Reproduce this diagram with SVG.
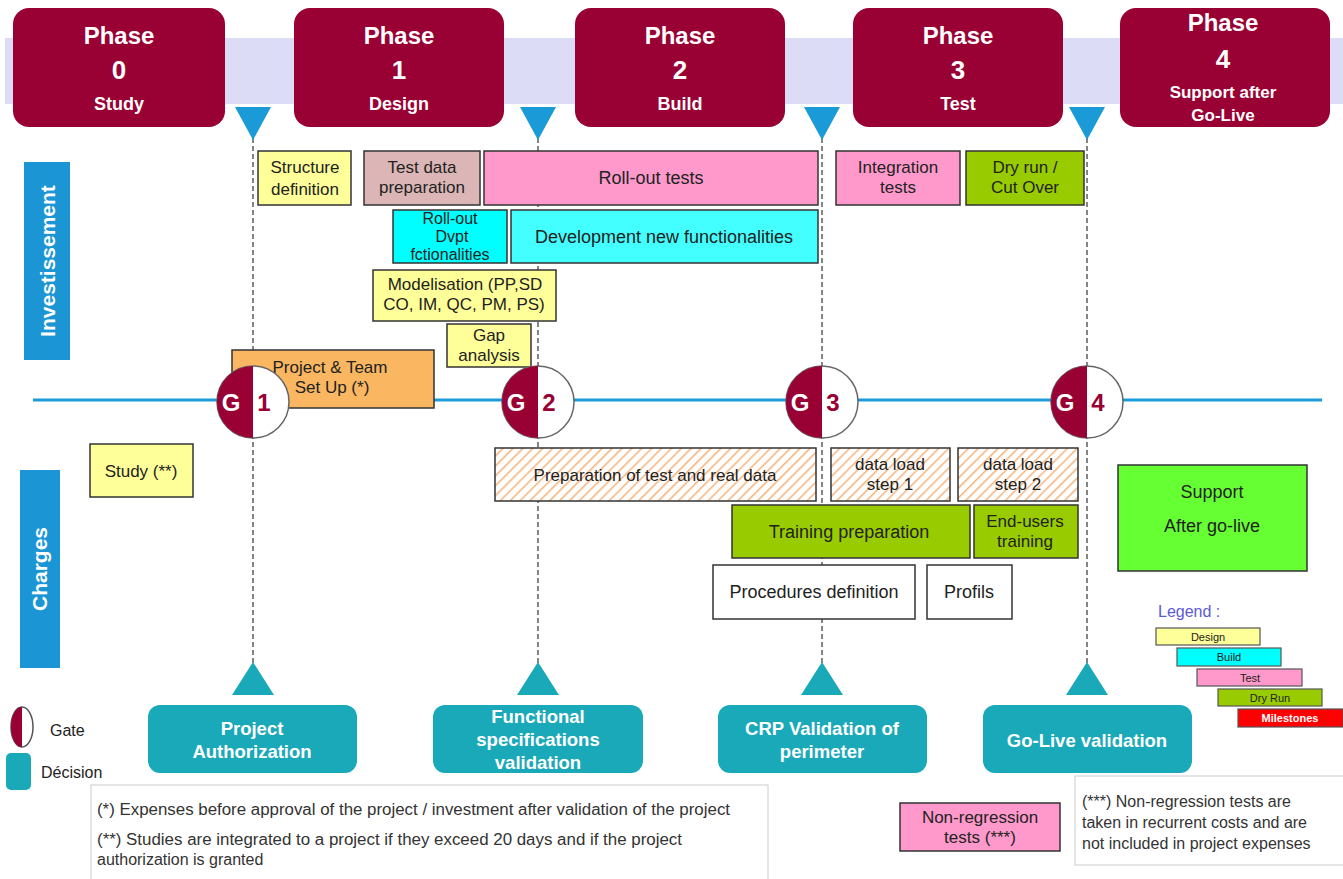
<svg xmlns="http://www.w3.org/2000/svg" width="1343" height="879" viewBox="0 0 1343 879">
<defs>
<pattern id="hatch" patternUnits="userSpaceOnUse" width="7" height="7" patternTransform="rotate(45)">
<rect width="7" height="7" fill="#ffffff"/>
<line x1="0" y1="0" x2="0" y2="7" stroke="#f6b27a" stroke-width="3"/>
</pattern>
<style>
.ph{fill:#990033}
.pt{fill:#fff;font-family:"Liberation Sans",Arial,sans-serif;font-weight:bold;text-anchor:middle}
.bx{stroke:#333;stroke-width:1.5}
.t{font-family:"Liberation Sans",Arial,sans-serif;font-size:18px;fill:#222;text-anchor:middle}
.s17{font-size:17px}
.s16{font-size:16px}
.dec{fill:#1aa9b9}
.dt{fill:#fff;font-family:"Liberation Sans",Arial,sans-serif;font-weight:bold;font-size:18.5px;text-anchor:middle}
.dash{stroke:#444;stroke-width:1.3;stroke-dasharray:5,3;fill:none}
.tri{fill:#1a9ad6}
.tru{fill:#1aa9b9}
.side{fill:#1b95d4}
.st{fill:#fff;font-family:"Liberation Sans",Arial,sans-serif;font-weight:bold;font-size:21px;text-anchor:middle}
.lg{stroke:#555;stroke-width:1.2}
.lt{font-family:"Liberation Sans",Arial,sans-serif;font-size:11px;fill:#222;text-anchor:middle}
.fn{font-family:"Liberation Sans",Arial,sans-serif;font-size:16px;fill:#333}
.gG{fill:#fff;font-family:"Liberation Sans",Arial,sans-serif;font-weight:bold;font-size:24px;text-anchor:middle}
.gN{fill:#990033;font-family:"Liberation Sans",Arial,sans-serif;font-weight:bold;font-size:24px;text-anchor:middle}
</style>
</defs>
<rect width="1343" height="879" fill="#ffffff"/>
<rect x="5" y="38" width="1338" height="66" fill="#dcdcf7"/>

<g id="connectors">
<line x1="33" y1="400" x2="1322" y2="400" stroke="#1d9bd8" stroke-width="3"/>
<line class="dash" x1="253" y1="138" x2="253" y2="665"/>
<line class="dash" x1="538" y1="138" x2="538" y2="665"/>
<line class="dash" x1="822" y1="138" x2="822" y2="665"/>
<line class="dash" x1="1087" y1="138" x2="1087" y2="665"/>
</g>

<g id="phase0"><rect class="ph" x="13" y="8" width="212" height="119" rx="16"/>
<text class="pt" x="119" y="44" font-size="24">Phase</text><text class="pt" x="119" y="79" font-size="26">0</text><text class="pt" x="119" y="110" font-size="18">Study</text></g>
<g id="phase1"><rect class="ph" x="294" y="8" width="210" height="119" rx="16"/>
<text class="pt" x="399" y="44" font-size="24">Phase</text><text class="pt" x="399" y="79" font-size="26">1</text><text class="pt" x="399" y="110" font-size="18">Design</text></g>
<g id="phase2"><rect class="ph" x="575" y="8" width="210" height="119" rx="16"/>
<text class="pt" x="680" y="44" font-size="24">Phase</text><text class="pt" x="680" y="79" font-size="26">2</text><text class="pt" x="680" y="110" font-size="18">Build</text></g>
<g id="phase3"><rect class="ph" x="853" y="8" width="210" height="119" rx="16"/>
<text class="pt" x="958" y="44" font-size="24">Phase</text><text class="pt" x="958" y="79" font-size="26">3</text><text class="pt" x="958" y="110" font-size="18">Test</text></g>
<g id="phase4"><rect class="ph" x="1120" y="8" width="210" height="119" rx="16"/>
<text class="pt" x="1223" y="31" font-size="24">Phase</text><text class="pt" x="1223" y="68" font-size="26">4</text><text class="pt" x="1223" y="98" font-size="17">Support after</text><text class="pt" x="1223" y="121" font-size="17">Go-Live</text></g>

<g id="gate-markers-top">
<polygon class="tri" points="235,107 271,107 253,140"/>
<polygon class="tri" points="520,107 556,107 538,140"/>
<polygon class="tri" points="804,107 840,107 822,140"/>
<polygon class="tri" points="1069,107 1105,107 1087,140"/>
</g>

<g id="investissement"><rect class="side" x="24" y="162" width="46" height="198"/>
<text class="st" transform="translate(55,261) rotate(-90)">Investissement</text></g>
<g id="charges"><rect class="side" x="20" y="470" width="40" height="198"/>
<text class="st" transform="translate(47,569) rotate(-90)">Charges</text></g>

<g id="structure"><rect class="bx" x="258" y="151" width="93" height="54" fill="#ffff99"/>
<text class="t s17" x="305" y="173">Structure</text><text class="t s17" x="305" y="195">definition</text></g>
<g id="testdata"><rect class="bx" x="364" y="151" width="116" height="54" fill="#dcb6b6"/>
<text class="t s17" x="422" y="173">Test data</text><text class="t s17" x="422" y="193">preparation</text></g>
<g id="rollouttests"><rect class="bx" x="484" y="151" width="334" height="54" fill="#ff99cc"/>
<text class="t" x="651" y="184">Roll-out tests</text></g>
<g id="rolloutdvpt"><rect class="bx" x="393" y="210" width="114" height="53" fill="#00ffff"/>
<text class="t s16" x="450" y="224">Roll-out</text><text class="t s16" x="452" y="242">Dvpt</text><text class="t s16" x="450" y="260">fctionalities</text></g>
<g id="devnew"><rect class="bx" x="511" y="210" width="307" height="53" fill="#44ffff"/>
<text class="t" x="664" y="243">Development  new functionalities</text></g>
<g id="modelisation"><rect class="bx" x="373" y="270" width="183" height="51" fill="#ffff99"/>
<text class="t s17" x="465" y="290">Modelisation (PP,SD</text><text class="t s17" x="464" y="310">CO, IM, QC, PM, PS)</text></g>
<g id="gap"><rect class="bx" x="447" y="324" width="84" height="43" fill="#ffff99"/>
<text class="t s17" x="489" y="341">Gap</text><text class="t s17" x="489" y="361">analysis</text></g>
<g id="projectteam"><rect class="bx" x="232" y="350" width="202" height="58" fill="#fab661"/>
<text class="t s17" x="330" y="373">Project  &amp; Team</text><text class="t s17" x="332" y="393">Set Up (*)</text></g>
<g id="integration"><rect class="bx" x="836" y="151" width="124" height="54" fill="#ff99cc"/>
<text class="t s17" x="898" y="173">Integration</text><text class="t s17" x="898" y="193">tests</text></g>
<g id="dryrun"><rect class="bx" x="966" y="151" width="118" height="54" fill="#99cc00"/>
<text class="t s17" x="1025" y="173">Dry run /</text><text class="t s17" x="1025" y="193">Cut Over</text></g>

<g id="gate1"><circle cx="253" cy="402" r="36" fill="#fff" stroke="#666" stroke-width="1.5"/>
<path d="M253,366 A36,36 0 0 0 253,438 Z" fill="#990033"/>
<text class="gG" x="231" y="411">G</text><text class="gN" x="264" y="411">1</text></g>
<g id="gate2"><circle cx="538" cy="402" r="36" fill="#fff" stroke="#666" stroke-width="1.5"/>
<path d="M538,366 A36,36 0 0 0 538,438 Z" fill="#990033"/>
<text class="gG" x="516" y="411">G</text><text class="gN" x="549" y="411">2</text></g>
<g id="gate3"><circle cx="822" cy="402" r="36" fill="#fff" stroke="#666" stroke-width="1.5"/>
<path d="M822,366 A36,36 0 0 0 822,438 Z" fill="#990033"/>
<text class="gG" x="800" y="411">G</text><text class="gN" x="833" y="411">3</text></g>
<g id="gate4"><circle cx="1087" cy="402" r="36" fill="#fff" stroke="#666" stroke-width="1.5"/>
<path d="M1087,366 A36,36 0 0 0 1087,438 Z" fill="#990033"/>
<text class="gG" x="1065" y="411">G</text><text class="gN" x="1098" y="411">4</text></g>

<g id="study"><rect class="bx" x="90" y="444" width="103" height="53" fill="#ffff99"/>
<text class="t s17" x="141" y="477">Study (**)</text></g>
<g id="prepdata"><rect class="bx" x="495" y="448" width="321" height="53" fill="url(#hatch)"/>
<text class="t s17" x="655" y="481">Preparation of  test and real data</text></g>
<g id="dataload1"><rect class="bx" x="831" y="448" width="119" height="53" fill="url(#hatch)"/>
<text class="t s17" x="890" y="470">data load</text><text class="t s17" x="890" y="490">step 1</text></g>
<g id="dataload2"><rect class="bx" x="958" y="448" width="120" height="53" fill="url(#hatch)"/>
<text class="t s17" x="1018" y="470">data load</text><text class="t s17" x="1018" y="490">step 2</text></g>
<g id="training"><rect class="bx" x="732" y="505" width="238" height="53" fill="#99cc00"/>
<text class="t" x="849" y="538">Training  preparation</text></g>
<g id="endusers"><rect class="bx" x="974" y="505" width="104" height="53" fill="#99cc00"/>
<text class="t s17" x="1025" y="527">End-users</text><text class="t s17" x="1025" y="547">training</text></g>
<g id="procedures"><rect class="bx" x="713" y="565" width="202" height="54" fill="#ffffff"/>
<text class="t" x="814" y="598">Procedures  definition</text></g>
<g id="profils"><rect class="bx" x="927" y="565" width="85" height="54" fill="#ffffff"/>
<text class="t" x="969" y="598">Profils</text></g>
<g id="support"><rect class="bx" x="1118" y="465" width="189" height="106" fill="#66ff33"/>
<text class="t" x="1212" y="498">Support</text><text class="t" x="1212" y="532">After go-live</text></g>

<g id="legend">
<text x="1158" y="617" font-family="'Liberation Sans',Arial,sans-serif" font-size="16" fill="#5a5ad6">Legend :</text>
<rect class="lg" x="1156" y="628" width="104" height="17" fill="#ffff99"/><text class="lt" x="1208" y="641">Design</text>
<rect class="lg" x="1177" y="648" width="104" height="18" fill="#00ffff"/><text class="lt" x="1229" y="661">Build</text>
<rect class="lg" x="1197" y="669" width="105" height="17" fill="#ff99cc"/><text class="lt" x="1250" y="682">Test</text>
<rect class="lg" x="1218" y="689" width="104" height="17" fill="#99cc00"/><text class="lt" x="1270" y="702">Dry Run</text>
<rect class="lg" x="1238" y="709" width="105" height="18" fill="#ff0000"/><text class="lt" x="1290" y="722" style="fill:#fff;font-weight:bold">Milestones</text>
</g>

<g id="decision-markers">
<polygon class="tru" points="232,695 274,695 253,662"/>
<polygon class="tru" points="517,695 559,695 538,662"/>
<polygon class="tru" points="801,695 843,695 822,662"/>
<polygon class="tru" points="1066,695 1108,695 1087,662"/>
</g>

<g id="dec1"><rect class="dec" x="148" y="705" width="209" height="68" rx="12"/>
<text class="dt" x="252" y="735">Project</text><text class="dt" x="252" y="758">Authorization</text></g>
<g id="dec2"><rect class="dec" x="433" y="705" width="210" height="68" rx="12"/>
<text class="dt" x="538" y="723">Functional</text><text class="dt" x="538" y="746">specifications</text><text class="dt" x="538" y="769">validation</text></g>
<g id="dec3"><rect class="dec" x="718" y="705" width="209" height="68" rx="12"/>
<text class="dt" x="822" y="735">CRP  Validation of</text><text class="dt" x="822" y="758">perimeter</text></g>
<g id="dec4"><rect class="dec" x="983" y="705" width="209" height="68" rx="12"/>
<text class="dt" x="1087" y="747">Go-Live validation</text></g>

<g id="key">
<ellipse cx="22" cy="727" rx="11" ry="20" fill="#fff" stroke="#555" stroke-width="1.5"/>
<path d="M22,707 A11,20 0 0 0 22,747 Z" fill="#990033"/>
<text x="50" y="736" font-family="'Liberation Sans',Arial,sans-serif" font-size="16" fill="#222">Gate</text>
<rect x="6" y="753" width="25" height="37" rx="5" fill="#1aa9b9"/>
<text x="41" y="778" font-family="'Liberation Sans',Arial,sans-serif" font-size="16" fill="#222">Décision</text>
</g>

<g id="footnote1">
<rect x="91" y="785" width="677" height="100" fill="#fff" stroke="#ccc" stroke-width="1"/>
<text class="fn" x="97" y="815" textLength="633" lengthAdjust="spacingAndGlyphs">(*) Expenses before approval of the project / investment after validation of the project</text>
<text class="fn" x="97" y="845" textLength="585" lengthAdjust="spacingAndGlyphs">(**) Studies are integrated to a project if they exceed 20 days and if the project</text>
<text class="fn" x="97" y="865">authorization is granted</text>
</g>
<g id="nonregression"><rect class="bx" x="900" y="803" width="160" height="48" fill="#ff99cc"/>
<text class="t s17" x="980" y="823">Non-regression</text><text class="t s17" x="980" y="843">tests (***)</text></g>
<g id="footnote2">
<rect x="1075" y="776" width="275" height="89" fill="#fff" stroke="#ccc" stroke-width="1"/>
<text class="fn" x="1082" y="807">(***) Non-regression tests are</text>
<text class="fn" x="1082" y="828">taken in recurrent costs and are</text>
<text class="fn" x="1082" y="849">not included in project expenses</text>
</g>
</svg>
